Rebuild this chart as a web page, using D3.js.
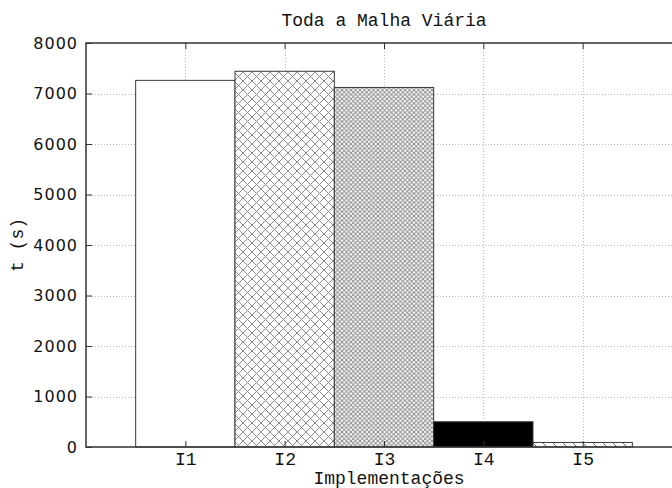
<!DOCTYPE html>
<html>
<head>
<meta charset="utf-8">
<script src="https://cdn.jsdelivr.net/npm/d3@7"></script>
<style>
  html, body { margin: 0; padding: 0; background: #fff; }
  svg { display: block; }
</style>
</head>
<body>
<svg id="chart" width="672" height="488"></svg>
<script>
// Execution time of each implementation over the whole road network
const categories = ["I1", "I2", "I3", "I4", "I5"];
const times = [7260, 7440, 7120, 500, 90];
const fills = ["white", "url(#hatchWide)", "url(#hatchFine)", "black", "url(#hatchDiag)"];
const yTicks = [0, 1000, 2000, 3000, 4000, 5000, 6000, 7000, 8000];

const svg = d3.select("#chart");
const margin = { left: 86, top: 43, bottom: 447 };
const plotRight = 682;

const x = d3.scaleLinear().domain([0, categories.length + 1]).range([margin.left, plotRight]);
const y = d3.scaleLinear().domain([0, 8000]).range([margin.bottom, margin.top]);
const step = x(1) - x(0);

// Fill patterns
const defs = svg.append("defs");
function crossHatch(id, size, color) {
  const p = defs.append("pattern").attr("id", id)
    .attr("patternUnits", "userSpaceOnUse").attr("width", size).attr("height", size);
  p.append("rect").attr("width", size).attr("height", size).attr("fill", "white");
  p.append("path")
    .attr("d", `M0,0L${size},${size}M0,${size}L${size},0`)
    .attr("stroke", color).attr("stroke-width", 1).attr("fill", "none");
}
crossHatch("hatchWide", 9, "#8a8a8a");
crossHatch("hatchFine", 4.5, "#8f8f8f");
const diag = defs.append("pattern").attr("id", "hatchDiag")
  .attr("patternUnits", "userSpaceOnUse").attr("width", 10).attr("height", 10);
diag.append("rect").attr("width", 10).attr("height", 10).attr("fill", "white");
diag.append("path").attr("d", "M0,0L10,10M-5,5L0,10M5,-5L15,5")
  .attr("stroke", "#666").attr("stroke-width", 1).attr("fill", "none");

// Grid
const grid = svg.append("g").attr("stroke", "#b8b8b8").attr("stroke-width", 1)
  .attr("stroke-dasharray", "1,2");
grid.selectAll("line.h").data(yTicks.slice(1, -1)).join("line")
  .attr("x1", margin.left).attr("x2", plotRight)
  .attr("y1", d => Math.round(y(d)) + 0.5).attr("y2", d => Math.round(y(d)) + 0.5);
grid.selectAll("line.v").data(categories).join("line")
  .attr("y1", margin.top).attr("y2", margin.bottom)
  .attr("x1", (d, i) => Math.round(x(i + 1)) + 0.5).attr("x2", (d, i) => Math.round(x(i + 1)) + 0.5);

// Bars
svg.append("g").selectAll("rect").data(times).join("rect")
  .attr("x", (d, i) => x(i + 0.5))
  .attr("width", step)
  .attr("y", d => y(d))
  .attr("height", d => y(0) - y(d))
  .attr("fill", (d, i) => fills[i])
  .attr("stroke", "#3a3a3a").attr("stroke-width", 1);

// Axes
const yAxis = svg.append("g").attr("transform", `translate(${margin.left},0)`)
  .call(d3.axisLeft(y).tickValues(yTicks).tickFormat(d3.format("d"))
    .tickSizeInner(-6).tickSizeOuter(0).tickPadding(8));
yAxis.selectAll("text").attr("font-family", "DejaVu Sans").attr("font-size", 16)
  .attr("letter-spacing", 1).attr("fill", "#111");

const xAxis = svg.append("g").attr("transform", `translate(0,${margin.bottom})`)
  .call(d3.axisBottom(x).tickValues(categories.map((d, i) => i + 1))
    .tickFormat((d) => categories[d - 1]).tickSizeInner(-6).tickSizeOuter(0).tickPadding(5));
xAxis.selectAll("text").attr("font-family", "Liberation Mono").attr("font-size", 18).attr("fill", "#111");

const xTop = svg.append("g").attr("transform", `translate(0,${margin.top})`)
  .call(d3.axisTop(x).tickValues(categories.map((d, i) => i + 1))
    .tickFormat("").tickSizeInner(-6).tickSizeOuter(0));

[yAxis, xAxis, xTop].forEach(g => {
  g.select(".domain").remove();
  g.selectAll(".tick line").attr("stroke", "#333").attr("stroke-width", 1);
});

// Frame
svg.append("path")
  .attr("d", `M${plotRight},${margin.top}H${margin.left}V${margin.bottom}H${plotRight}`)
  .attr("fill", "none").attr("stroke", "#333").attr("stroke-width", 1.5);

// Titles
svg.append("text").attr("x", (margin.left + plotRight) / 2).attr("y", 26)
  .attr("text-anchor", "middle").attr("font-family", "Liberation Mono").attr("font-size", 18)
  .attr("fill", "#111").text("Toda a Malha Viária");
svg.append("text").attr("x", 389).attr("y", 484)
  .attr("text-anchor", "middle").attr("font-family", "Liberation Mono").attr("font-size", 18)
  .attr("fill", "#111").text("Implementações");
svg.append("text").attr("transform", `translate(23,${(margin.top + margin.bottom) / 2}) rotate(-90)`)
  .attr("text-anchor", "middle").attr("font-family", "Liberation Mono").attr("font-size", 18)
  .attr("fill", "#111").text("t (s)");
</script>
</body>
</html>
